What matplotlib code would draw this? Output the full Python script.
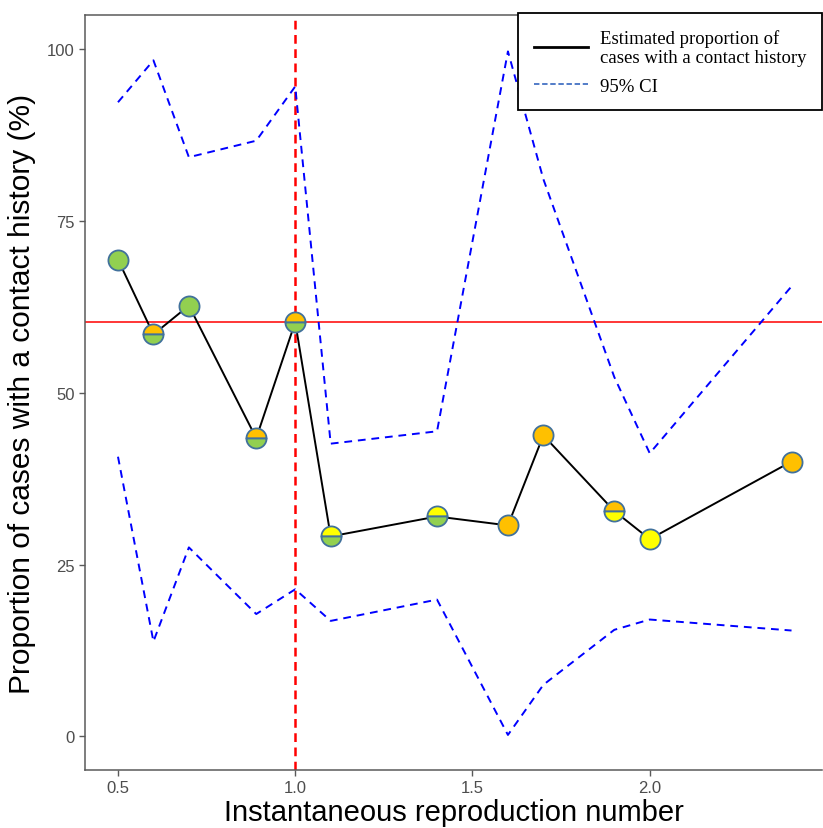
import numpy as np
import matplotlib.pyplot as plt
from matplotlib.lines import Line2D

plt.rcParams['font.family'] = ['Liberation Sans', 'DejaVu Sans']

# Rt values and estimated proportion (%)
rt = [0.5, 0.6, 0.7, 0.89, 1.0, 1.1, 1.4, 1.6, 1.7, 1.9, 2.0, 2.4]
prop = [69.4, 58.5, 62.7, 43.4, 60.3, 29.1, 32.0, 30.7, 43.8, 32.8, 28.7, 40.0]
ci_upper = [92.3, 98.4, 84.3, 86.7, 94.6, 42.6, 44.4, 99.7, 81.1, 52.3, 41.2, 65.5]
ci_lower = [40.7, 13.8, 27.5, 17.8, 21.4, 16.8, 19.9, 0.2, 7.5, 15.5, 17.0, 15.4]

# marker colours: top half / bottom half
green, orange, yellow = "#92D050", "#FFC000", "#FFFF00"
top_col = [green, orange, green, orange, orange, yellow, yellow, orange, orange, orange, yellow, orange]
bot_col = [green, green, green, green, green, green, green, orange, orange, yellow, yellow, orange]

overall = 60.3
threshold = 1.0

fig = plt.figure(figsize=(8.23, 8.29), dpi=100)
ax = fig.add_axes([0.1033, 0.070, 0.8955, 0.9107])

ax.axhline(overall, color="#FF0000", lw=1.1, zorder=2)
ax.axvline(threshold, color="#FF0000", lw=1.8, linestyle=(0, (3.5, 2.2)), zorder=2)
ax.plot(rt, ci_upper, color="#0000FF", lw=1.4, linestyle=(0, (4, 3)), zorder=3)
ax.plot(rt, ci_lower, color="#0000FF", lw=1.4, linestyle=(0, (4, 3)), zorder=3)
ax.plot(rt, prop, color="black", lw=1.4, zorder=4)

for x, y, t, b in zip(rt, prop, top_col, bot_col):
    fs = "full" if t == b else "top"
    ax.plot(x, y, marker="o", markersize=14.5, fillstyle=fs,
            markerfacecolor=t, markerfacecoloralt=b,
            markeredgecolor="#41719C", markeredgewidth=1.3, zorder=5)

ax.set_xlim(0.407, 2.486)
ax.set_ylim(-4.9, 105)
ax.set_xticks([0.5, 1.0, 1.5, 2.0])
ax.set_xticklabels(["0.5", "1.0", "1.5", "2.0"])
ax.set_yticks([0, 25, 50, 75, 100])

for s in ["left", "bottom", "top"]:
    ax.spines[s].set_color("#5A5A5A")
    ax.spines[s].set_linewidth(1.1)
ax.spines["right"].set_visible(False)
ax.tick_params(colors="#5A5A5A", labelcolor="#4D4D4D", labelsize=12, length=4, width=1)

ax.set_xlabel("Instantaneous reproduction number", fontsize=21, labelpad=2)
ax.set_ylabel("Proportion of cases with a contact history (%)", fontsize=21.5, labelpad=8)

handles = [Line2D([], [], color="black", lw=2),
           Line2D([], [], color="#4472C4", lw=1.3, linestyle=(0, (3, 1.5)))]
labels = ["Estimated proportion of\ncases with a contact history", "95% CI"]
leg = ax.legend(handles, labels, loc="upper right", bbox_to_anchor=(1.0, 1.003),
                borderaxespad=0,
                prop={"family": "Liberation Serif", "size": 13.5}, fancybox=False,
                edgecolor="black", framealpha=1, handlelength=2.9,
                handletextpad=0.6, labelspacing=0.6, borderpad=0.85)
leg.get_frame().set_linewidth(1.3)

fig.savefig("out.png", dpi=100)
